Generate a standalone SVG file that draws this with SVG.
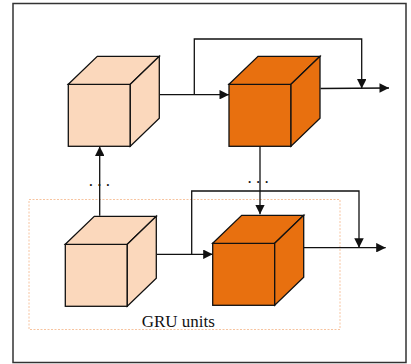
<svg xmlns="http://www.w3.org/2000/svg" width="411" height="364" viewBox="0 0 411 364">
  <style>
    .frame { fill: #ffffff; stroke: #333333; stroke-width: 1.5; }
    .group-box { fill: none; stroke: #f7c4a0; stroke-width: 1; stroke-dasharray: 2 1.5; }
    .face { stroke: #111111; stroke-width: 1.3; stroke-linejoin: miter; }
    .light { fill: #fbd8bc; }
    .dark { fill: #e8700f; }
    .wire { fill: none; stroke: #111111; stroke-width: 1.3; }
    .label { font-family: "Liberation Serif", "Times New Roman", serif; font-size: 17px; fill: #111111; }
    .dots { font-family: "Liberation Serif", "Times New Roman", serif; font-size: 17px; fill: #111111; text-anchor: middle; }
  </style>
  <defs>
    <marker id="arrow" viewBox="0 0 10 10" refX="10" refY="5" markerWidth="10" markerHeight="9.5" markerUnits="userSpaceOnUse" orient="auto">
      <path d="M0,0 L10,5 L0,10 Z" fill="#111111"/>
    </marker>
    <!-- unit cube: front face 62x62 at origin, depth offset (29,-28) -->
    <g id="cube-shape">
      <rect class="face" x="0" y="0" width="62" height="62"/>
      <path class="face" d="M0,0 L29,-28 L91,-28 L62,0 Z"/>
      <path class="face" d="M62,0 L91,-28 L91,34 L62,62 Z"/>
    </g>
  </defs>

  <rect class="frame" x="13" y="3.5" width="393" height="359"/>

  <rect class="group-box" x="29" y="199.5" width="311" height="130"/>

  <g id="connectors">
    <!-- upper row -->
    <path class="wire" d="M160,94.7 L229,94.7" marker-end="url(#arrow)"/>
    <path class="wire" d="M194.3,94.7 L194.3,39 L361.7,39 L361.7,88.5" marker-end="url(#arrow)"/>
    <path class="wire" d="M320.5,88.5 L389,88" marker-end="url(#arrow)"/>
    <!-- lower row -->
    <path class="wire" d="M157,254.3 L212.7,254.3" marker-end="url(#arrow)"/>
    <path class="wire" d="M191.7,254.3 L191.7,191 L359,191 L359,247.7" marker-end="url(#arrow)"/>
    <path class="wire" d="M304,247.7 L385.7,247.7" marker-end="url(#arrow)"/>
    <!-- between rows -->
    <path class="wire" d="M99.7,215.7 L99.7,146.5" marker-end="url(#arrow)"/>
    <path class="wire" d="M260,146.3 L260,214.3" marker-end="url(#arrow)"/>
  </g>

  <g id="dots-left"><text class="dots" x="99.3" y="186">. . .</text></g>
  <g id="dots-right"><text class="dots" x="258" y="182.5">. . .</text></g>

  <g id="cube-top-left"><use href="#cube-shape" class="light" x="68.3" y="84.3"/></g>
  <g id="cube-top-right"><use href="#cube-shape" class="dark" x="229" y="84.3"/></g>
  <g id="cube-bottom-left"><use href="#cube-shape" class="light" x="65.3" y="244.3"/></g>
  <g id="cube-bottom-right"><use href="#cube-shape" class="dark" x="212.7" y="243.3"/></g>

  <g id="group-label"><text class="label" x="178.3" y="326.5" text-anchor="middle" font-family="Liberation Serif, serif">GRU units</text></g>
</svg>
